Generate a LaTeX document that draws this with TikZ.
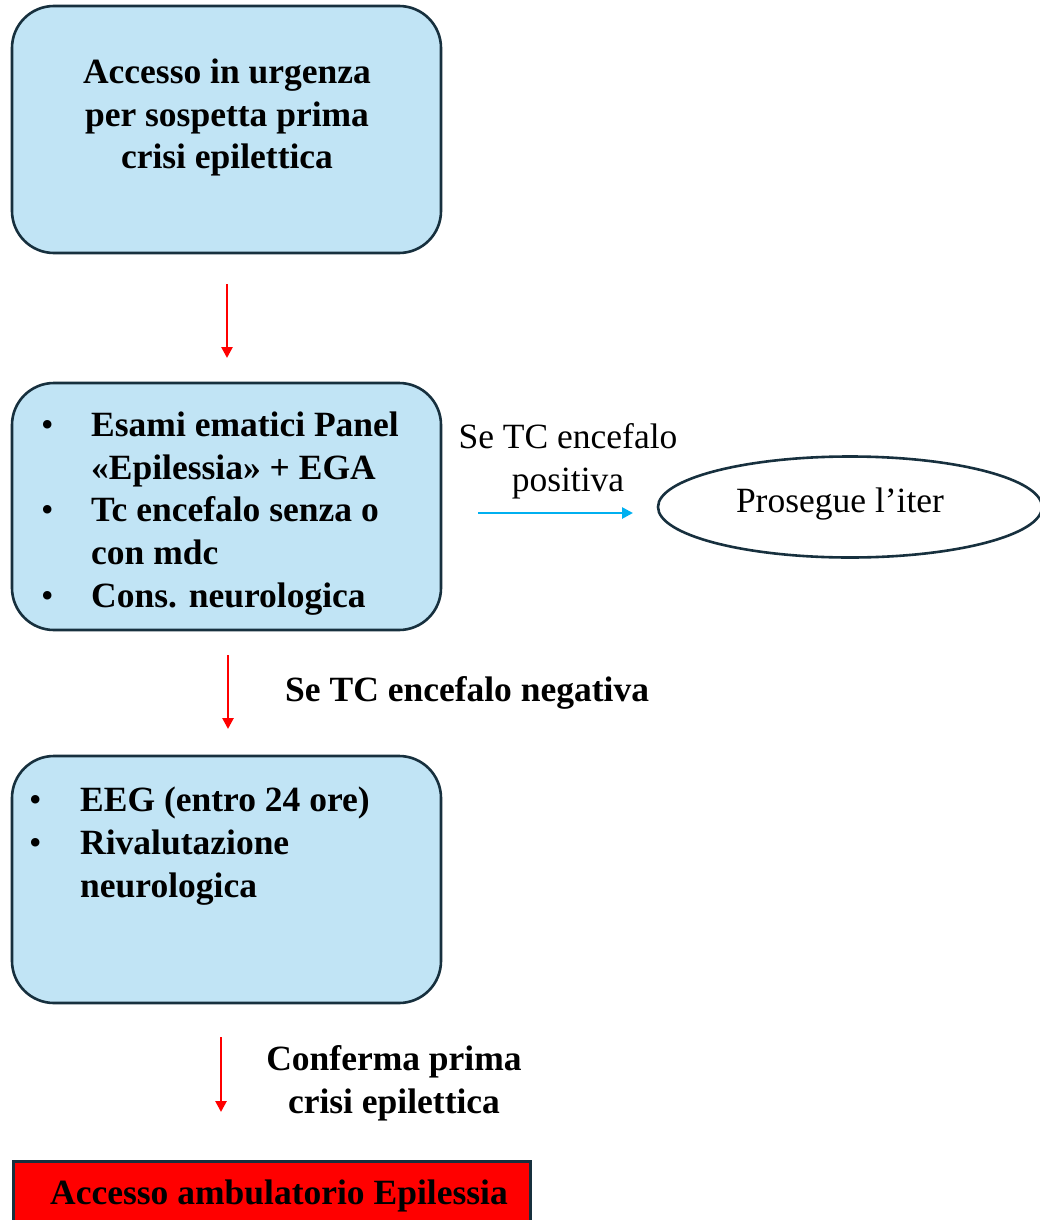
\documentclass[tikz,border=0pt]{standalone}
\usepackage{fontspec}
\setmainfont{Liberation Serif}
\usetikzlibrary{arrows.meta,shapes.geometric}
\definecolor{boxfill}{HTML}{C1E4F5}
\definecolor{boxline}{HTML}{17303E}
\definecolor{arrred}{HTML}{FF0000}
\definecolor{arrblue}{HTML}{00B0F0}
\begin{document}
\begin{tikzpicture}[x=1pt,y=-1pt,
  bluebox/.style={draw=boxline,line width=2.6pt,fill=boxfill,rounded corners=42pt,
    minimum width=429pt,minimum height=247pt,inner sep=0pt},
  boldtxt/.style={font=\fontsize{35.5}{42.7}\selectfont\bfseries,inner sep=0pt},
  plaintxt/.style={font=\fontsize{35.5}{42.7}\selectfont,inner sep=0pt},
  redarrow/.style={draw=arrred,line width=2.6pt,-{Triangle[width=11pt,length=11pt]}},
  bluearrow/.style={draw=arrblue,line width=2.6pt,-{Triangle[width=11pt,length=11pt]}}
]
\useasboundingbox (0,0) rectangle (1040,1220);
\fill[white] (0,0) rectangle (1040,1220);

% box 1
\node[bluebox] (b1) at (226.5,129.5) {};
\node[boldtxt,align=center] (t1) at (227,117.5) {Accesso in urgenza\\per sospetta prima\\crisi epilettica};

% box 2
\node[bluebox] (b2) at (226.5,506.5) {};
\node[boldtxt,align=left,anchor=west] (t2) at (41,513.5)
 {\makebox[50pt][l]{\mdseries •}Esami ematici Panel\\
  \hspace*{50pt}«Epilessia» + EGA\\
  \makebox[50pt][l]{\mdseries •}Tc encefalo senza o\\
  \hspace*{50pt}con mdc\\
  \makebox[50pt][l]{\mdseries •}Cons. neurologica};

% box 3
\node[bluebox] (b3) at (226.5,879.5) {};
\node[boldtxt,align=left,anchor=west] (t3) at (29,846)
 {\makebox[51pt][l]{\mdseries •}EEG (entro 24 ore)\\
  \makebox[51pt][l]{\mdseries •}Rivalutazione\\
  \hspace*{51pt}neurologica};

% ellipse
\node[ellipse,draw=boxline,line width=2.6pt,minimum width=384pt,minimum height=101pt,inner sep=0pt] (e1) at (850,507) {};
\node[plaintxt] (te) at (840,504) {Prosegue l’iter};

% red box
\node[draw=boxline,fill=arrred,line width=2.6pt,minimum width=517pt,minimum height=90pt,anchor=north west,inner sep=0pt] (b4) at (12,1160) {};
\node[boldtxt,anchor=west] (t4) at (50,1196) {Accesso ambulatorio Epilessia};

% labels
\node[plaintxt,align=center] (l1) at (568,461) {Se TC encefalo\\positiva};
\node[boldtxt,anchor=west] (l2) at (285,693) {Se TC encefalo negativa};
\node[boldtxt,align=center] (l3) at (394,1083) {Conferma prima\\crisi epilettica};

% arrows
\coordinate (a1s) at (227,284);
\coordinate (a1e) at (227,358);
\coordinate (a2s) at (228,655);
\coordinate (a2e) at (228,729);
\coordinate (a3s) at (221,1037);
\coordinate (a3e) at (221,1112);
\coordinate (abs) at (478,513);
\coordinate (abe) at (633,513);
\draw[redarrow] (a1s) -- (a1e);
\draw[redarrow] (a2s) -- (a2e);
\draw[redarrow] (a3s) -- (a3e);
\draw[bluearrow] (abs) -- (abe);
\end{tikzpicture}
\end{document}
